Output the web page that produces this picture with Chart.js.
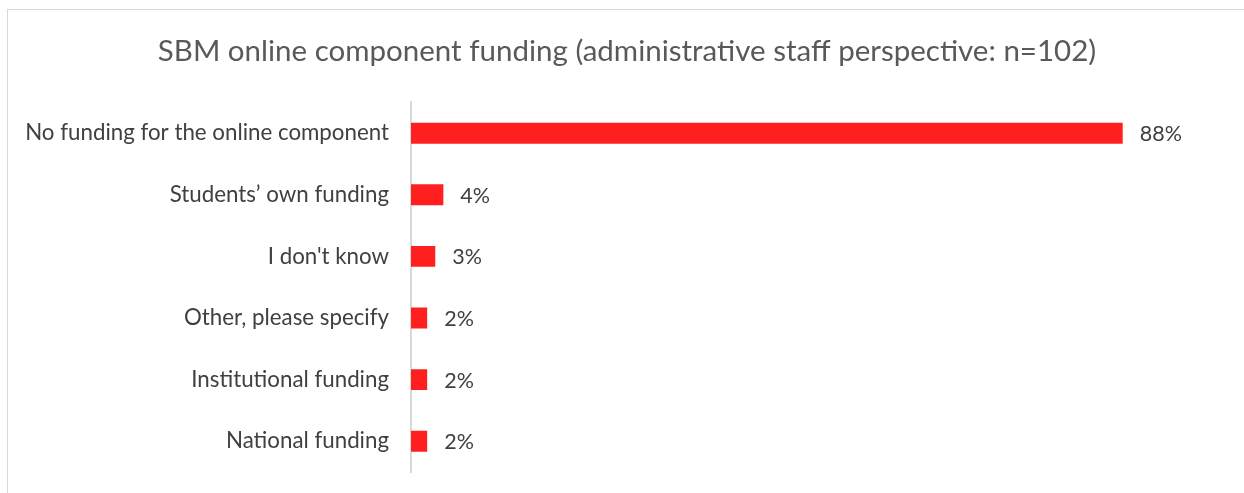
<!DOCTYPE html>
<html>
<head>
<meta charset="utf-8">
<script src="https://cdn.jsdelivr.net/npm/chart.js@4"></script>
<style>
    html, body { margin: 0; padding: 0; background: #fff; overflow: hidden; }
    #chartCanvas { position: absolute; left: 0; top: 0; }
    #frame { position: absolute; left: 7px; top: 9px; width: 1260px; height: 500px; border: 1px solid #d9d9d9; pointer-events: none; }
</style>
</head>
<body>
<canvas id="chartCanvas" width="1244" height="493"></canvas>
<div id="frame"></div>
<script>
    // --- Data ---
    const categories = [
        'No funding for the online component',
        'Students\u2019 own funding',
        'I don\'t know',
        'Other, please specify',
        'Institutional funding',
        'National funding'
    ];
    const percentages = [88, 4, 3, 2, 2, 2];
    const chartTitle = 'SBM online component funding (administrative staff perspective: n=102)';

    const FONT = 'Lato, Carlito, Calibri, sans-serif';
    const PAD_LEFT = 10;
    const AXIS_LEFT = 411;

    // draws "NN%" just past the end of each bar
    const valueLabels = {
        id: 'valueLabels',
        afterDatasetsDraw(chart) {
            const ctx = chart.ctx;
            const meta = chart.getDatasetMeta(0);
            ctx.save();
            ctx.font = '21.5px ' + FONT;
            ctx.fillStyle = '#404040';
            ctx.textAlign = 'left';
            ctx.textBaseline = 'middle';
            meta.data.forEach((bar, i) => {
                ctx.fillText(percentages[i] + '%', bar.x + 17, bar.y + 1);
            });
            ctx.restore();
        }
    };

    const chartInstance = new Chart(document.getElementById('chartCanvas'), {
        type: 'bar',
        data: {
            labels: categories,
            datasets: [{
                data: percentages,
                backgroundColor: '#ff1f1f',
                borderWidth: 0,
                categoryPercentage: 1,
                barPercentage: 0.34
            }]
        },
        options: {
            indexAxis: 'y',
            responsive: false,
            animation: false,
            layout: { padding: { left: PAD_LEFT, right: 0, top: 0, bottom: 21 } },
            plugins: {
                legend: { display: false },
                tooltip: { enabled: false },
                title: {
                    display: true,
                    text: chartTitle,
                    color: '#595959',
                    font: { family: FONT, size: 29.5, weight: 'normal' },
                    padding: { top: 34, bottom: 33 }
                }
            },
            scales: {
                x: {
                    display: false,
                    min: 0,
                    max: 103
                },
                y: {
                    grid: { display: false, drawTicks: false },
                    border: { display: true, color: '#d9d9d9', width: 2 },
                    ticks: {
                        color: '#404040',
                        padding: 22,
                        font: { family: FONT, size: 22.3 }
                    },
                    afterFit(scale) {
                        // fixed label column; labels sit inside the category bands, so no extra room above/below
                        scale.width = AXIS_LEFT - PAD_LEFT;
                        scale.paddingTop = 0;
                        scale.paddingBottom = 0;
                    }
                }
            }
        },
        plugins: [valueLabels]
    });
</script>
</body>
</html>
